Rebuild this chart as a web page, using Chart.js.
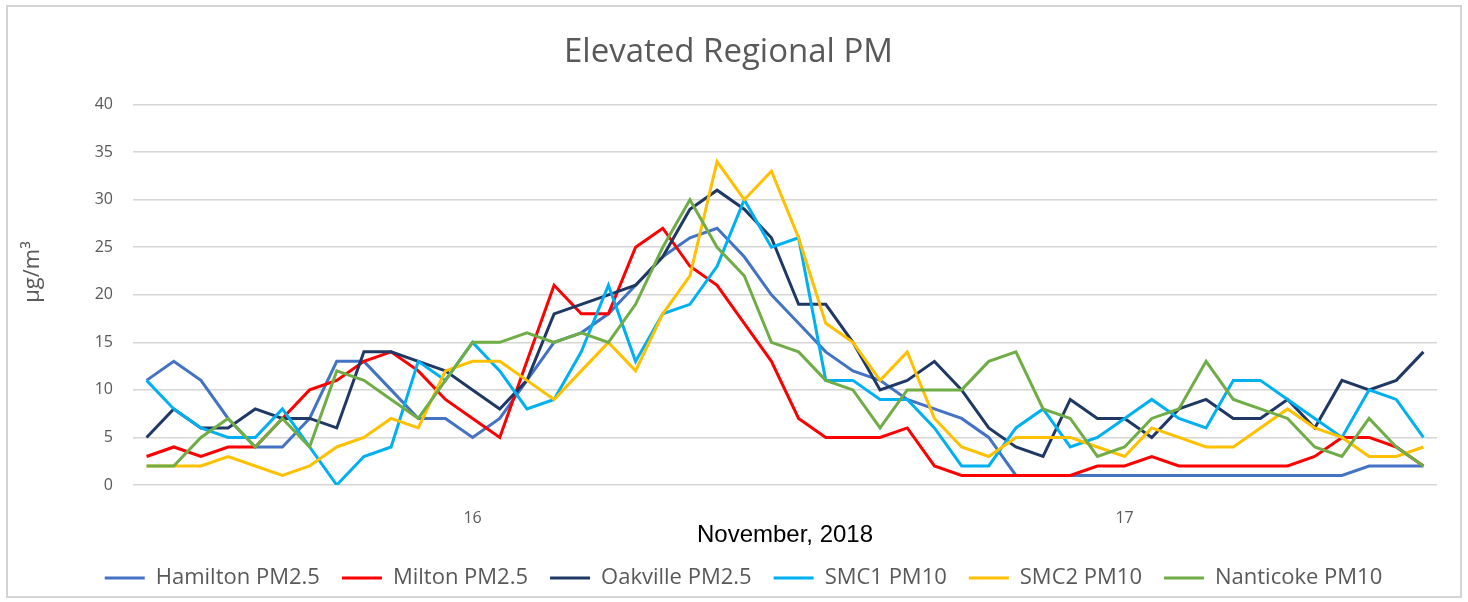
<!DOCTYPE html>
<html>
<head>
<meta charset="utf-8">
<script src="https://cdn.jsdelivr.net/npm/chart.js@4.4.1/dist/chart.umd.min.js"></script>
<style>
  html, body { margin: 0; padding: 0; background: #fff; }
  #wrap { position: relative; width: 1468px; height: 602px; }
  #frame { position: absolute; left: 6px; top: 5px; width: 1452px; height: 589px; border: 2px solid #d4d4d4; pointer-events: none; }
</style>
</head>
<body>
<div id="wrap">
  <canvas id="chart" width="1468" height="602"></canvas>
  <div id="frame"></div>
</div>
<script>
// hourly readings, Nov 16 - Nov 17 2018
const hours = [
  '00:00','01:00','02:00','03:00','04:00','05:00','06:00','07:00','08:00','09:00','10:00','11:00',
  '12:00','13:00','14:00','15:00','16:00','17:00','18:00','19:00','20:00','21:00','22:00','23:00',
  '00:00','01:00','02:00','03:00','04:00','05:00','06:00','07:00','08:00','09:00','10:00','11:00',
  '12:00','13:00','14:00','15:00','16:00','17:00','18:00','19:00','20:00','21:00','22:00','23:00'
];
const dayLabels = ['16', '17'];

const hamilton  = [11,13,11,7,4,4,7,13,13,10,7,7,5,7,11,15,16,18,21,24,26,27,24,20,17,14,12,11,9,8,7,5,1,1,1,1,1,1,1,1,1,1,1,1,1,2,2,2];
const milton    = [3,4,3,4,4,7,10,11,13,14,12,9,7,5,13,21,18,18,25,27,23,21,17,13,7,5,5,5,6,2,1,1,1,1,1,2,2,3,2,2,2,2,2,3,5,5,4,2];
const oakville  = [5,8,6,6,8,7,7,6,14,14,13,12,10,8,11,18,19,20,21,24,29,31,29,26,19,19,15,10,11,13,10,6,4,3,9,7,7,5,8,9,7,7,9,6,11,10,11,14];
const smc1      = [11,8,6,5,5,8,4,0,3,4,13,11,15,12,8,9,14,21,13,18,19,23,30,25,26,11,11,9,9,6,2,2,6,8,4,5,7,9,7,6,11,11,9,7,5,10,9,5];
const smc2      = [2,2,2,3,2,1,2,4,5,7,6,12,13,13,11,9,12,15,12,18,22,34,30,33,26,17,15,11,14,7,4,3,5,5,5,4,3,6,5,4,4,6,8,6,5,3,3,4];
const nanticoke = [2,2,5,7,4,7,4,12,11,9,7,11,15,15,16,15,16,15,19,25,30,25,22,15,14,11,10,6,10,10,10,13,14,8,7,3,4,7,8,13,9,8,7,4,3,7,4,2];

const seriesNames  = ['Hamilton PM2.5', 'Milton PM2.5', 'Oakville PM2.5', 'SMC1 PM10', 'SMC2 PM10', 'Nanticoke PM10'];
const seriesData   = [hamilton, milton, oakville, smc1, smc2, nanticoke];
const seriesColors = ['#4472C4', '#FF0000', '#203864', '#00B0F0', '#FFC000', '#70AD47'];

const grey = '#595959';
const font = 'Open Sans';

const datasets = seriesNames.map((name, i) => ({
  label: name,
  data: seriesData[i],
  borderColor: seriesColors[i],
  backgroundColor: seriesColors[i],
  borderWidth: 3,
  pointRadius: 0,
  pointStyle: 'line',
  tension: 0,
  order: seriesNames.length - i   // later series on top, like excel
}));

// y axis title sits a bit above the middle of the plot in the original
const yTitle = {
  id: 'yTitle',
  afterDraw(chart) {
    const ctx = chart.ctx;
    ctx.save();
    ctx.translate(33, 272);
    ctx.rotate(-Math.PI / 2);
    ctx.fillStyle = grey;
    ctx.font = '22px "Open Sans"';
    ctx.textAlign = 'center';
    ctx.textBaseline = 'middle';
    ctx.fillText('µg/m³', 0, 0);
    ctx.restore();
  }
};

// nudge the legend row right to line up with the original
const legendShift = {
  id: 'legendShift',
  afterLayout(chart) {
    chart.legend.left += 15;
    chart.legend.right += 15;
  }
};

new Chart(document.getElementById('chart'), {
  type: 'line',
  data: { labels: hours, datasets: datasets },
  plugins: [yTitle, legendShift],
  options: {
    responsive: false,
    animation: false,
    layout: { padding: { left: 20, right: 31, top: 0, bottom: 3 } },
    plugins: {
      title: {
        display: true,
        text: 'Elevated Regional PM',
        color: grey,
        font: { family: font, size: 33, weight: 'normal', lineHeight: 1.2 },
        padding: { top: 33, bottom: 32 }
      },
      legend: {
        position: 'bottom',
        labels: {
          usePointStyle: true,
          pointStyleWidth: 40,
          padding: 22,
          color: grey,
          font: { family: font, size: 22 },
          sort: (a, b) => a.datasetIndex - b.datasetIndex
        }
      },
      tooltip: { enabled: false }
    },
    scales: {
      x: {
        offset: true,
        grid: { display: false, drawTicks: false },
        border: { display: false },
        ticks: {
          autoSkip: false,
          maxRotation: 0,
          minRotation: 0,
          padding: 25,
          color: grey,
          font: { family: font, size: 16, lineHeight: 1 },
          callback: (v, i) => hours[i] === '12:00' ? dayLabels[Math.floor(i / 24)] : ''
        },
        title: {
          display: true,
          text: 'November, 2018',
          color: '#000',
          font: { family: 'Liberation Sans', size: 24, lineHeight: 1 },
          padding: { top: 0, bottom: -2 }
        },
        afterFit: s => { s.height = 60; }
      },
      y: {
        min: 0,
        max: 40,
        grid: { color: '#d6d6d6', lineWidth: 1.5, drawTicks: false },
        border: { display: false },
        ticks: {
          stepSize: 5,
          padding: 20,
          color: grey,
          font: { family: font, size: 16 }
        },
        afterFit: s => { s.width = 113; }
      }
    }
  }
});
</script>
</body>
</html>
